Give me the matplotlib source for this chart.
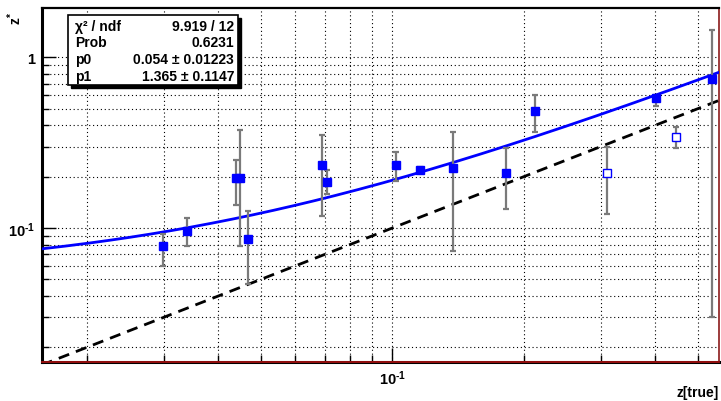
import numpy as np
import matplotlib
matplotlib.use('Agg')
import matplotlib.pyplot as plt
import matplotlib.ticker as ticker

plt.rcParams['font.family'] = ['Liberation Sans', 'DejaVu Sans']
plt.rcParams['font.weight'] = 'bold'
plt.rcParams['mathtext.fontset'] = 'custom'
plt.rcParams['mathtext.rm'] = 'Liberation Sans:bold'
plt.rcParams['mathtext.bf'] = 'Liberation Sans:bold'
plt.rcParams['mathtext.it'] = 'Liberation Sans:bold'

# measured points (z true, z*) with asymmetric errors
z_true = [0.0298, 0.0339, 0.0439, 0.0448, 0.0468, 0.0689, 0.0709, 0.1018,
          0.1157, 0.1377, 0.182, 0.2121, 0.401, 0.538]
z_star = [0.0784, 0.096, 0.196, 0.196, 0.0862, 0.234, 0.186, 0.234,
          0.2196, 0.2256, 0.2109, 0.4867, 0.575, 0.746]
z_hi = [0.0922, 0.1144, 0.2513, 0.375, 0.1263, 0.3506, 0.2196, 0.280,
        0.229, 0.365, 0.2943, 0.604, 0.601, 1.445]
z_lo = [0.0601, 0.0784, 0.1364, 0.0788, 0.047, 0.118, 0.158, 0.1885,
        0.212, 0.0736, 0.1292, 0.365, 0.5206, 0.030]

# points drawn with open markers
open_true = [0.310, 0.4459]
open_star = [0.210, 0.3426]
open_hi = [0.2982, 0.392]
open_lo = [0.1208, 0.2954]

# fit result: z* = p0 + p1 * z
p0 = 0.054
p1 = 1.365
stats_names = ['\u03c7\u00b2 / ndf', 'Prob', 'p0', 'p1']
stats_vals = ['9.919 / 12', '0.6231', '0.054 \u00b1 0.01223', '1.365 \u00b1 0.1147']

xmin, xmax = 0.01576, 0.5592
ymin, ymax = 0.01652, 1.945

W, H = 721, 402
fig = plt.figure(figsize=(W / 100, H / 100), dpi=100)


def fx(px):
    return px / W


def fy(py):
    return 1 - py / H


ax = fig.add_axes([fx(41.7), fy(362.5), fx(719) - fx(41.7), fy(9) - fy(362.5)])
ax.set_xscale('log')
ax.set_yscale('log')
ax.set_xlim(xmin, xmax)
ax.set_ylim(ymin, ymax)

xs = np.logspace(np.log10(xmin), np.log10(xmax), 200)
ax.plot(xs, xs, color='black', lw=2, ls=(0, (4, 2.6)), zorder=3)
ax.plot(xs, p0 + p1 * xs, color='#0000ff', lw=2, zorder=3)

def draw_points(x, y, hi, lo, face):
    x = np.array(x)
    y = np.array(y)
    yerr = [y - np.array(lo), np.array(hi) - y]
    ax.errorbar(x, y, yerr=yerr, fmt='none', ecolor='#7a7a7a', elinewidth=1.6,
                capsize=2.5, capthick=1.6, zorder=4)
    ax.plot(x, y, 's', ms=6.4, mfc=face, mec='#0000ff', mew=1.0, zorder=5)


draw_points(z_true, z_star, z_hi, z_lo, '#0000ff')
draw_points(open_true, open_star, open_hi, open_lo, 'white')

# ticks and grid
tenth = r'$10^{\text{-1}}$'
ax.xaxis.set_major_locator(ticker.FixedLocator([0.1]))
ax.xaxis.set_major_formatter(ticker.FixedFormatter([tenth]))
ax.xaxis.set_minor_locator(ticker.LogLocator(base=10, subs=np.arange(2, 10)))
ax.xaxis.set_minor_formatter(ticker.NullFormatter())
ax.yaxis.set_major_locator(ticker.FixedLocator([0.1, 1]))
ax.yaxis.set_major_formatter(ticker.FixedFormatter([tenth, '1']))
ax.yaxis.set_minor_locator(ticker.LogLocator(base=10, subs=np.arange(2, 10)))
ax.yaxis.set_minor_formatter(ticker.NullFormatter())
ax.tick_params(which='both', direction='in', top=False, right=False, color='black')
ax.tick_params(which='major', length=10, width=1, labelsize=10.5, pad=5)
ax.tick_params(which='minor', length=5, width=1)
ax.grid(True, which='both', color='black', ls=(0, (1, 2.5)), lw=0.8)
ax.set_axisbelow(True)

for s in ['left', 'bottom']:
    ax.spines[s].set_linewidth(2.2)
ax.spines['top'].set_linewidth(1.6)
ax.spines['right'].set_linewidth(1.2)
ax.spines['right'].set_color('#8b1a1a')
ax.axhline(ymin, color='#a01010', lw=1.3, zorder=6, clip_on=False)

# stats box with shadow
bx0, by0, bx1, by1 = 68, 16, 238, 86
fig.patches.append(plt.Rectangle((fx(bx0 + 3), fy(by1 + 3)), fx(bx1) - fx(bx0),
                                 fy(by0) - fy(by1), transform=fig.transFigure,
                                 facecolor='black', edgecolor='black', zorder=7))
fig.patches.append(plt.Rectangle((fx(bx0), fy(by1)), fx(bx1) - fx(bx0),
                                 fy(by0) - fy(by1), transform=fig.transFigure,
                                 facecolor='white', edgecolor='black', lw=1.2, zorder=8))
rows = [27, 43, 60, 77]
for name, val, ry in zip(stats_names, stats_vals, rows):
    fig.text(fx(75), fy(ry), name, fontsize=10, fontweight='bold', va='center', ha='left', zorder=9)
    fig.text(fx(234), fy(ry), val, fontsize=10, fontweight='bold', va='center', ha='right', zorder=9)

fig.text(fx(15), fy(12), r'z$^{*}$', rotation=90, fontsize=10, fontweight='bold',
         ha='center', va='top')
fig.text(fx(719), fy(393), 'z[true]', fontsize=10, fontweight='bold', ha='right', va='center')

fig.savefig('out.png', dpi=100)
